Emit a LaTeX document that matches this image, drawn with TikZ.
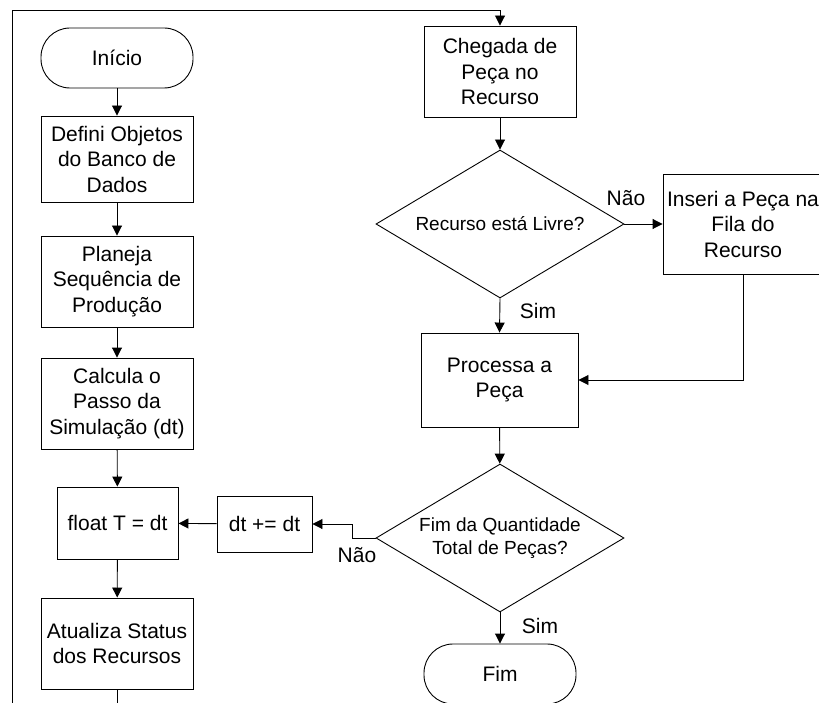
\documentclass[tikz,border=0pt]{standalone}
\usepackage{fontspec}
\setmainfont{Liberation Sans}
\usetikzlibrary{shapes.geometric,arrows.meta}
\tikzset{
  box/.style={draw, line width=0.9pt, align=center, inner sep=0pt,
    font=\fontsize{21}{25.5}\selectfont},
  term/.style={box, rounded corners=29pt, minimum width=152pt, minimum height=60pt},
  dec/.style={draw, line width=0.9pt, diamond, aspect=1.676, inner sep=0pt,
    minimum width=248pt, minimum height=148pt, align=center,
    font=\fontsize{19}{22.7}\selectfont},
  lbl/.style={inner sep=0pt, font=\fontsize{21}{25}\selectfont},
  arr/.style={line width=0.9pt, -{Triangle[length=10pt,width=10pt]}},
  ln/.style={line width=0.9pt}
}
\begin{document}
\begin{tikzpicture}[x=1pt,y=-1pt]
\useasboundingbox (0,0) rectangle (819,703);
\clip (0,0) rectangle (819,703);
% left column
\node[term] (ini) at (117,58) {Início};
\node[box, minimum width=152pt, minimum height=86pt] (def) at (117,159) {Defini Objetos\\do Banco de\\Dados};
\node[box, minimum width=152pt, minimum height=91pt] (plan) at (117,281.5) {Planeja\\Sequência de\\Produção};
\node[box, minimum width=152pt, minimum height=91pt] (calc) at (117,403.5) {Calcula o\\Passo da\\Simulação (dt)};
\node[box, minimum width=121pt, minimum height=72pt] (flt) at (117.5,523) {float T = dt};
\node[box, minimum width=95pt, minimum height=56pt] (dtp) at (264.5,524) {dt += dt};
\node[box, minimum width=152pt, minimum height=91pt] (atu) at (117,643.5) {Atualiza Status\\dos Recursos};
% right column
\node[box, minimum width=152pt, minimum height=91pt] (cheg) at (500,71.5) {Chegada de\\Peça no\\Recurso};
\node[dec] (d1) at (500,224) {Recurso está Livre?};
\node[box, minimum width=160pt, minimum height=100pt] (ins) at (743,224) {Inseri a Peça na\\Fila do\\Recurso};
\node[box, minimum width=157pt, minimum height=94pt] (proc) at (499.5,380) {Processa a\\Peça};
\node[dec] (d2) at (500,538) {Fim da Quantidade\\Total de Peças?};
\node[term] (fim) at (500,674) {Fim};
% labels
\node[lbl] (nao1) at (626,198) {Não};
\node[lbl] (sim1) at (538,311) {Sim};
\node[lbl] (nao2) at (357,555) {Não};
\node[lbl] (sim2) at (540,626) {Sim};
% connectors
\draw[arr] (ini) -- (def);
\draw[arr] (def) -- (plan);
\draw[arr] (plan) -- (calc);
\draw[arr] (calc) -- (flt);
\draw[arr] (flt) -- (atu);
\draw[arr] (dtp) -- (flt);
\coordinate (lbot) at (12,720);
\coordinate (ltop) at (12,10);
\draw[arr] (atu.south) |- (lbot) -- (ltop) -| (cheg.north);
\draw[arr] (cheg) -- (d1);
\draw[arr] (d1.east) -- (ins.west);
\draw[arr] (d1.south) -- (proc.north);
\draw[arr] (ins.south) |- (proc.east);
\draw[arr] (proc) -- (d2);
\draw[arr] (d2.west) -- ++(-23,0) |- (dtp.east);
\draw[arr] (d2.south) -- (fim.north);
\end{tikzpicture}
\end{document}
